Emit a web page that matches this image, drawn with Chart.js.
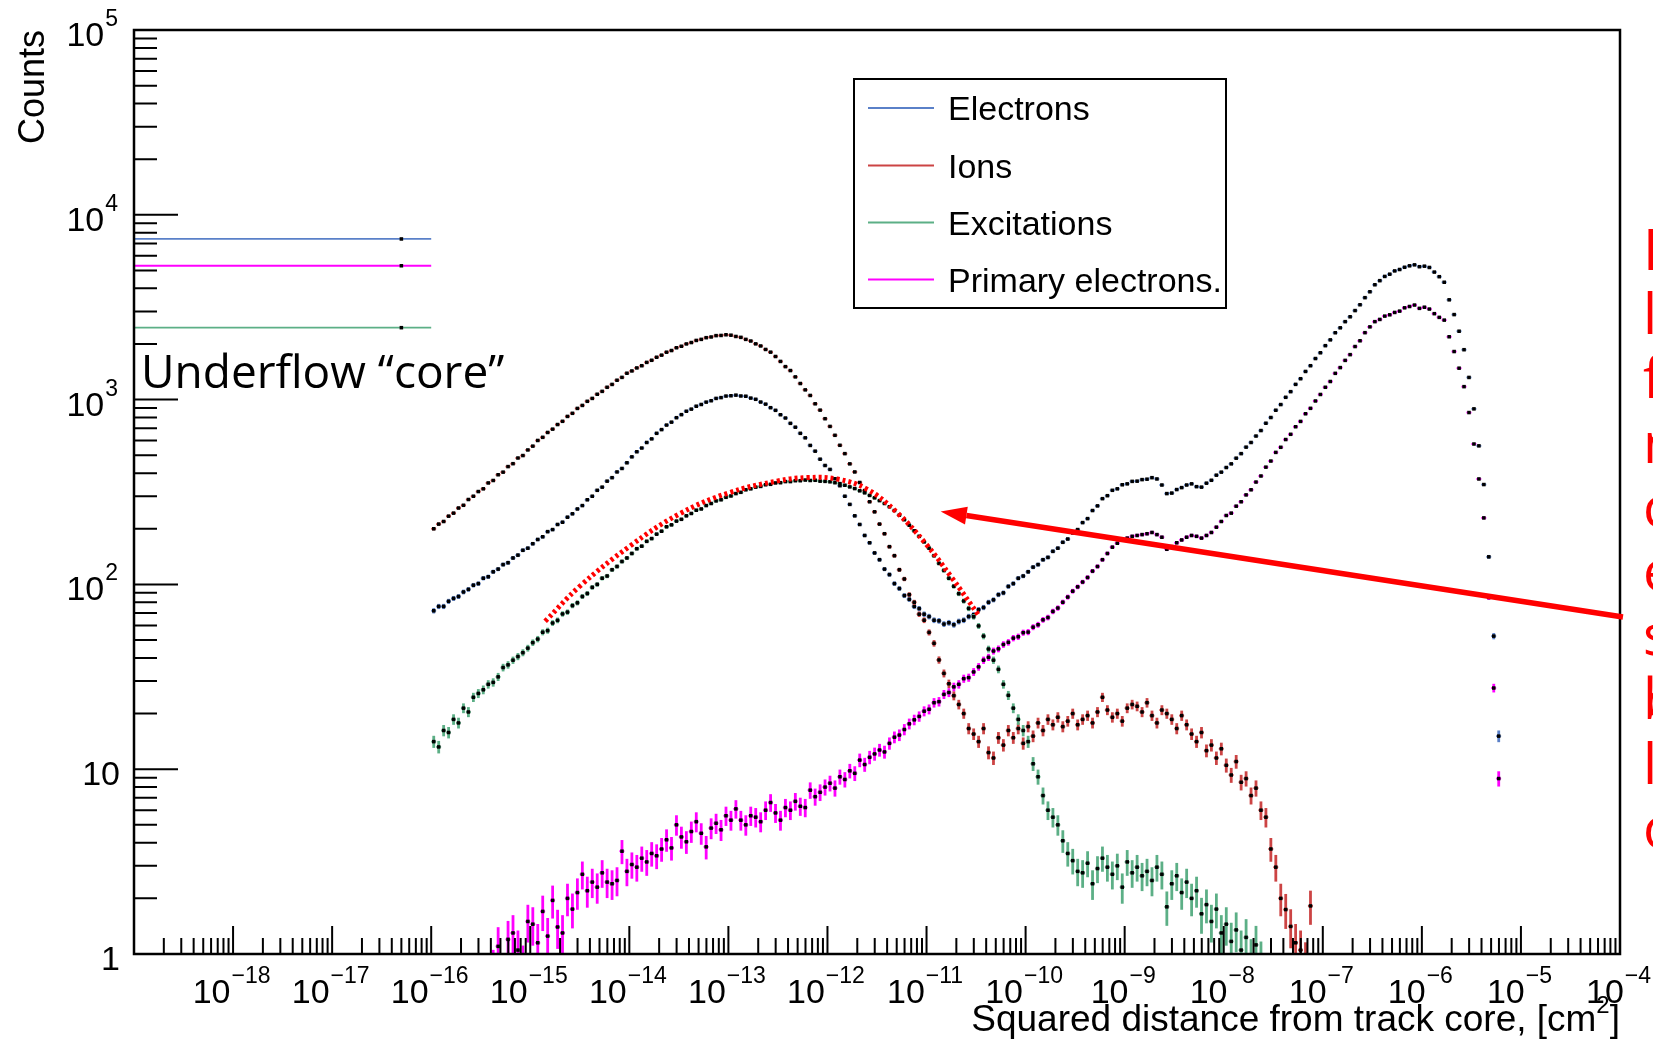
<!DOCTYPE html>
<html>
<head>
<meta charset="utf-8">
<script src="https://cdn.jsdelivr.net/npm/chart.js@4.4.1/dist/chart.umd.min.js"></script>
<style>
  html, body { margin: 0; padding: 0; background: #fff; overflow: hidden; }
  #wrap { width: 1653px; height: 1041px; }
</style>
</head>
<body>
<div id="wrap"><canvas id="myChart" width="1653" height="1041"></canvas></div>
<script>
// log10 binning: 20 bins per decade starting at 1e-16 cm^2
const binLow = -16;
const binsPerDecade = 20;

const seriesNames = ["Electrons", "Ions", "Excitations", "Primary electrons."];
const seriesColors = ["#5a80c8", "#cc4444", "#5caf86", "#ff00ff"];

// counts per bin, one row per decade
const electrons = [
  72, 76, 76, 81, 84, 86, 91, 94, 99, 101, 108, 110, 117, 121, 128, 131, 139, 144, 153, 157,
  166, 175, 181, 193, 198, 211, 217, 231, 241, 256, 267, 287, 300, 323, 336, 362, 378, 406, 424, 455,
  490, 522, 547, 586, 613, 657, 688, 728, 755, 798, 829, 865, 888, 921, 941, 969, 986, 1015, 1025, 1045,
  1049, 1057, 1046, 1043, 1019, 1004, 970, 945, 904, 875, 828, 795, 744, 709, 657, 621, 565, 526, 476, 440,
  419, 373, 342, 300, 271, 235, 211, 184, 168, 148, 136, 121, 113, 101, 95, 87, 83, 76, 74, 69,
  67, 64, 63.5, 61, 62, 60.5, 63, 64, 67, 68.5, 73, 75, 80, 82.5, 88, 90, 97.5, 101, 108, 111,
  117, 124, 128, 136, 140, 151, 157, 169, 176, 190, 198, 216, 227, 251, 266, 291, 302, 323, 329, 346,
  350, 361, 362, 369, 371, 378, 372, 345, 310, 312, 326, 334, 345, 350, 338, 336, 353, 366, 390, 405,
  429, 449, 482, 510, 553, 586, 635, 680, 745, 800, 876, 940, 1029, 1104, 1209, 1297, 1420, 1525, 1668, 1792,
  1958, 2105, 2300, 2446, 2641, 2806, 3032, 3260, 3561, 3833, 4182, 4401, 4640, 4771, 4970, 5058, 5201, 5296, 5360, 5237,
  5272, 5188, 4898, 4624, 4315, 3467, 2884, 2344, 1862, 1318, 891, 562, 347, 141, 52.5, 15.1
];

const ions = [
  200, 212, 219, 234, 243, 259, 268, 288, 300, 318, 329, 354, 365, 392, 405, 434, 450, 483, 498, 534,
  560, 601, 625, 664, 692, 733, 763, 811, 843, 896, 930, 979, 1015, 1069, 1108, 1166, 1208, 1273, 1319, 1389,
  1429, 1484, 1525, 1590, 1632, 1695, 1740, 1805, 1843, 1908, 1944, 2001, 2036, 2090, 2118, 2163, 2182, 2219, 2224, 2243,
  2231, 2196, 2172, 2118, 2075, 2003, 1951, 1868, 1806, 1711, 1609, 1508, 1436, 1327, 1222, 1129, 1053, 949, 877, 788,
  716, 641, 566, 510, 449, 406, 356, 322, 280, 247, 212, 188, 160, 143, 120, 107, 88, 80, 69, 64,
  55, 48, 39, 33, 29, 25, 22.4, 20, 16.6, 15.5, 14.1, 16.6, 12.3, 11.5, 14.8, 13.5, 16.2, 14.8, 16.6, 13.8,
  17.0, 15.1, 17.8, 16.2, 18.6, 17.4, 19.1, 17.0, 18.2, 20.0, 17.4, 18.6, 19.5, 17.8, 20.4, 24.5, 20.9, 19.1, 20.0, 18.2,
  21.4, 22.4, 21.9, 20.4, 22.9, 19.5, 17.8, 20.9, 20.0, 18.6, 16.6, 19.5, 17.4, 15.5, 14.1, 15.8, 12.6, 13.5, 11.5, 12.9,
  10.5, 9.3, 11.0, 8.5, 8.9, 7.2, 7.9, 6.0, 5.5, 3.7, 2.95, 2.0, 1.74, 1.41, 1.15, 1.05, 0.89, 1.82
];

const excitations = [
  14.1, 13.2, 16.2, 15.8, 18.6, 17.8, 21.4, 20.4, 24.5, 25.7, 26.9, 28.8, 29.5, 31.6, 35.5, 36.7, 38.9, 40.7, 42.7, 45.2,
  48.4, 50.6, 55.1, 56.2, 61.8, 63.9, 69.2, 70.8, 76.8, 79.5, 86.0, 89.3, 96.4, 100, 108, 111, 120, 125, 133, 139,
  147, 156, 161, 171, 177, 187, 194, 205, 210, 220, 225, 235, 242, 252, 256, 267, 274, 283, 287, 296,
  301, 310, 315, 325, 329, 336, 339, 346, 348, 354, 355, 360, 360, 364, 364, 367, 365, 366, 362, 361,
  359, 355, 351, 344, 337, 330, 321, 313, 303, 294, 284, 274, 263, 251, 237, 224, 209, 195, 182, 170,
  157, 143, 130, 119, 108, 97.7, 89.1, 81.3, 74.1, 66.8, 59.6, 52.5, 44.7, 38.9, 34.7, 28.8, 25.1, 21.4, 18.6, 16.2,
  14.1, 10.7, 9.1, 7.2, 6.0, 5.5, 5.0, 4.1, 3.5, 3.2, 2.8, 2.75, 3.1, 2.4, 2.9, 3.3, 2.95, 2.7, 3.0, 2.3,
  3.15, 2.75, 2.95, 2.65, 2.8, 2.5, 2.95, 2.7, 1.8, 2.4, 2.65, 2.15, 2.45, 2.0, 2.2, 1.65, 1.85, 1.5, 1.75, 1.3,
  1.45, 1.17, 1.35, 1.05, 1.23, 0.93, 1.12, 0.9
];

const primaries = [
  null, null, null, null, null, null, null, null, null, null, null, null, 0.8, 1.1, 0.75, 1.2, 1.3, 1.05, 0.85, 1.5,
  1.45, 1.15, 1.7, 1.25, 1.95, 1.4, 1.3, 2.0, 1.75, 2.15, 2.7, 2.2, 2.45, 2.3, 2.75, 2.45, 2.4, 2.5, 3.6, 2.8,
  3.05, 2.95, 3.3, 3.15, 3.5, 3.4, 3.7, 4.15, 3.75, 5.0, 4.3, 4.05, 4.6, 5.2, 4.5, 3.8, 4.8, 5.1, 4.7, 5.6,
  5.3, 6.1, 5.3, 5.0, 5.6, 5.5, 5.2, 6.0, 6.6, 5.8, 5.3, 6.2, 6.0, 6.7, 6.3, 6.2, 7.7, 7.1, 7.5, 8.0,
  8.4, 7.9, 9.1, 8.8, 9.8, 9.5, 11.2, 10.6, 11.6, 12.1, 12.7, 12.4, 13.8, 14.9, 15.3, 16.4, 17.6, 18.5, 19.3, 20.6,
  21.1, 22.9, 23.2, 25.4, 26.0, 27.9, 28.8, 30.9, 31.3, 33.6, 35.8, 38.9, 40.3, 43.6, 44.8, 47.3, 48.6, 51.2, 52.1, 54.8,
  55.2, 58.7, 60.5, 64.3, 66.2, 71.4, 74.5, 80.1, 85.4, 91.9, 97.0, 103, 109, 118, 125, 136, 147, 159, 167, 175,
  178, 182, 184, 186, 188, 191, 186, 180, 155, 160, 168, 174, 180, 184, 182, 178, 184, 191, 204, 219,
  236, 243, 265, 280, 305, 325, 358, 386, 431, 465, 518, 552, 608, 649, 713, 762, 838, 897, 983, 1066,
  1166, 1253, 1387, 1490, 1630, 1751, 1937, 2081, 2302, 2475, 2641, 2715, 2830, 2876, 2962, 3011, 3138, 3190, 3248, 3117,
  3162, 3090, 2917, 2786, 2692, 2188, 1820, 1479, 1175, 851, 575, 372, 229, 85, 27.5, 8.9
];

// underflow bin (r^2 < 1e-16), same order as seriesNames
const underflowCounts = [7400, null, 2450, 5300];

// entries are scaled counts; error = sqrt(raw) * norm
const normFactor = 0.08;

const xTickExps = [-18, -17, -16, -15, -14, -13, -12, -11, -10, -9, -8, -7, -6, -5, -4];
const yTickExps = [0, 1, 2, 3, 4, 5];

// hand drawn fit over excitations, [log10 x, log10 y]
const fitCurve = [
  [-14.85, 1.80], [-14.5, 1.99], [-14.0, 2.205], [-13.5, 2.38], [-13.0, 2.495], [-12.5, 2.56],
  [-12.2, 2.578], [-11.9, 2.57], [-11.6, 2.515], [-11.3, 2.39], [-11.0, 2.215], [-10.75, 2.04], [-10.47, 1.83]
];
const arrowFrom = [-3.97, 1.824];
const arrowTo = [-10.857, 2.394];

const noteLines = ["Log-normal", "like", "function", "models", "core", "excitation", "spread,", "but", "lacks", "outer tail"];

const ROOT_FONT = "'Liberation Sans', Arial, sans-serif";
const NOTE_FONT = "'Open Sans', 'DejaVu Sans', sans-serif";

const binEdge = (k) => Math.pow(10, binLow + k / binsPerDecade);

function toPoints(values, under) {
  const pts = [];
  if (under !== null) {
    pts.push({ x: binEdge(0) / 2, y: under, lo: 1e-24, hi: binEdge(0) });
  }
  values.forEach((v, k) => {
    if (v === null) return;
    const lo = binEdge(k), hi = binEdge(k + 1);
    pts.push({ x: (lo + hi) / 2, y: v, lo: lo, hi: hi });
  });
  return pts;
}

const seriesValues = [electrons, ions, excitations, primaries];

const datasets = seriesValues.map((vals, i) => ({
  label: seriesNames[i],
  data: toPoints(vals, underflowCounts[i]),
  errColor: seriesColors[i],
  showLine: false,
  pointStyle: "rect",
  pointRadius: 2.5,
  pointBorderWidth: 0,
  pointBackgroundColor: "#000",
  clip: 0,
  order: 4 - i,
}));

datasets.push({
  label: "fit",
  data: fitCurve.map((p) => ({ x: Math.pow(10, p[0]), y: Math.pow(10, p[1]) })),
  showLine: true,
  tension: 0.4,
  borderColor: "#ff0000",
  borderWidth: 5,
  borderDash: [3, 3],
  pointRadius: 0,
  clip: 0,
  order: -1,
});

const errorBars = {
  id: "errorBars",
  beforeDatasetDraw(chart, args) {
    const ds = chart.data.datasets[args.index];
    if (!ds.errColor) return;
    const { ctx, chartArea: a, scales: { x, y } } = chart;
    ctx.save();
    ctx.beginPath();
    ctx.rect(a.left, a.top, a.right - a.left, a.bottom - a.top);
    ctx.clip();
    ctx.strokeStyle = ds.errColor;
    ds.data.forEach((p) => {
      const err = Math.sqrt(p.y * normFactor);
      const yp = y.getPixelForValue(p.y);
      ctx.lineWidth = 1.8;
      ctx.beginPath();
      ctx.moveTo(x.getPixelForValue(p.lo), yp);
      ctx.lineTo(x.getPixelForValue(p.hi), yp);
      ctx.stroke();
      const xp = x.getPixelForValue(p.x);
      ctx.lineWidth = 2.8;
      ctx.beginPath();
      ctx.moveTo(xp, y.getPixelForValue(p.y + err));
      ctx.lineTo(xp, y.getPixelForValue(Math.max(p.y - err, 0.01)));
      ctx.stroke();
    });
    ctx.restore();
  },
};

function drawPow(ctx, exp, xRef, yBase, align) {
  const sup = exp < 0 ? "\u2212" + Math.abs(exp) : String(exp);
  ctx.font = "34px " + ROOT_FONT;
  const wb = ctx.measureText("10").width;
  ctx.font = "23px " + ROOT_FONT;
  const ws = ctx.measureText(sup).width;
  const x0 = align === "center" ? xRef - (wb + ws) / 2 : xRef - (wb + ws);
  ctx.textAlign = "left";
  ctx.font = "34px " + ROOT_FONT;
  ctx.fillText("10", x0, yBase);
  ctx.font = "23px " + ROOT_FONT;
  ctx.fillText(sup, x0 + wb + 1, yBase - 20);
}

const rootAxes = {
  id: "rootAxes",
  afterDatasetsDraw(chart) {
    const { ctx, chartArea: a, scales: { x, y } } = chart;
    ctx.save();
    ctx.strokeStyle = "#000";
    ctx.lineWidth = 2;
    ctx.beginPath();
    for (let e = -19; e <= -4; e++) {
      for (let m = 1; m <= 9; m++) {
        if (e === -4 && m > 1) break;
        const xp = x.getPixelForValue(m * Math.pow(10, e));
        ctx.moveTo(xp, a.bottom);
        ctx.lineTo(xp, a.bottom - (m === 1 ? 28 : 16));
      }
    }
    for (let e = 0; e <= 5; e++) {
      for (let m = 1; m <= 9; m++) {
        if (e === 5 && m > 1) break;
        const yp = y.getPixelForValue(m * Math.pow(10, e));
        ctx.moveTo(a.left, yp);
        ctx.lineTo(a.left + (m === 1 ? 44 : 23), yp);
      }
    }
    ctx.stroke();
    ctx.lineWidth = 2.5;
    ctx.strokeRect(a.left, a.top, a.right - a.left, a.bottom - a.top);

    ctx.fillStyle = "#000";
    ctx.textBaseline = "alphabetic";
    xTickExps.forEach((e) => {
      drawPow(ctx, e, x.getPixelForValue(Math.pow(10, e)) - 2, 1003, "center");
    });
    yTickExps.forEach((e) => {
      const yp = y.getPixelForValue(Math.pow(10, e)) + 16;
      if (e < 2) {
        ctx.font = "34px " + ROOT_FONT;
        ctx.textAlign = "right";
        ctx.fillText(String(Math.pow(10, e)), 120, yp);
      } else {
        drawPow(ctx, e, 117, yp, "right");
      }
    });

    // axis titles
    ctx.save();
    ctx.translate(44, a.top);
    ctx.rotate(-Math.PI / 2);
    ctx.font = "36px " + ROOT_FONT;
    ctx.textAlign = "right";
    ctx.fillText("Counts", 0, 0);
    ctx.restore();

    const t1 = "Squared distance from track core, [cm";
    ctx.font = "37px " + ROOT_FONT;
    const wClose = ctx.measureText("]").width;
    const wT1 = ctx.measureText(t1).width;
    ctx.font = "24px " + ROOT_FONT;
    const wSup = ctx.measureText("2").width;
    let xs = a.right - wClose - wSup - wT1;
    ctx.textAlign = "left";
    ctx.font = "37px " + ROOT_FONT;
    ctx.fillText(t1, xs, 1031);
    ctx.font = "24px " + ROOT_FONT;
    ctx.fillText("2", xs + wT1, 1013);
    ctx.font = "37px " + ROOT_FONT;
    ctx.fillText("]", xs + wT1 + wSup, 1031);

    // legend
    ctx.fillStyle = "#fff";
    ctx.fillRect(854, 79, 372, 229);
    ctx.lineWidth = 2;
    ctx.strokeStyle = "#000";
    ctx.strokeRect(854, 79, 372, 229);
    const rows = [108, 165.5, 222.5, 279.5];
    seriesNames.forEach((name, i) => {
      ctx.strokeStyle = seriesColors[i];
      ctx.lineWidth = 2;
      ctx.beginPath();
      ctx.moveTo(868, rows[i]);
      ctx.lineTo(934, rows[i]);
      ctx.stroke();
      ctx.fillStyle = "#000";
      ctx.font = "34px " + ROOT_FONT;
      ctx.textAlign = "left";
      ctx.fillText(name, 948, rows[i] + 12);
    });
    ctx.restore();
  },
};

const annotations = {
  id: "annotations",
  afterDraw(chart) {
    const { ctx, scales: { x, y } } = chart;
    const x0 = x.getPixelForValue(Math.pow(10, arrowFrom[0]));
    const y0 = y.getPixelForValue(Math.pow(10, arrowFrom[1]));
    const x1 = x.getPixelForValue(Math.pow(10, arrowTo[0]));
    const y1 = y.getPixelForValue(Math.pow(10, arrowTo[1]));
    const ang = Math.atan2(y1 - y0, x1 - x0);
    const headLen = 26, headW = 9;
    const bx = x1 - headLen * Math.cos(ang), by = y1 - headLen * Math.sin(ang);
    ctx.save();
    ctx.strokeStyle = "#ff0000";
    ctx.fillStyle = "#ff0000";
    ctx.lineWidth = 5.5;
    ctx.beginPath();
    ctx.moveTo(x0, y0);
    ctx.lineTo(bx, by);
    ctx.stroke();
    ctx.beginPath();
    ctx.moveTo(x1, y1);
    ctx.lineTo(bx + headW * Math.sin(ang), by - headW * Math.cos(ang));
    ctx.lineTo(bx - headW * Math.sin(ang), by + headW * Math.cos(ang));
    ctx.closePath();
    ctx.fill();

    ctx.textAlign = "left";
    ctx.textBaseline = "alphabetic";
    ctx.font = "56px " + NOTE_FONT;
    noteLines.forEach((line, i) => {
      ctx.fillText(line, 1643, 270 + 64.2 * i);
    });

    ctx.fillStyle = "#000";
    ctx.font = "46px " + NOTE_FONT;
    ctx.fillText("Underflow \u201Ccore\u201D", 141, 388);
    ctx.restore();
  },
};

new Chart(document.getElementById("myChart").getContext("2d"), {
  type: "scatter",
  data: { datasets: datasets },
  options: {
    responsive: false,
    animation: false,
    devicePixelRatio: 1,
    layout: { padding: { left: 134, top: 30, right: 33, bottom: 87 } },
    scales: {
      x: { type: "logarithmic", min: 1e-19, max: 1e-4, display: false },
      y: { type: "logarithmic", min: 1, max: 1e5, display: false },
    },
    plugins: { legend: { display: false }, tooltip: { enabled: false } },
  },
  plugins: [errorBars, rootAxes, annotations],
});
</script>
</body>
</html>
